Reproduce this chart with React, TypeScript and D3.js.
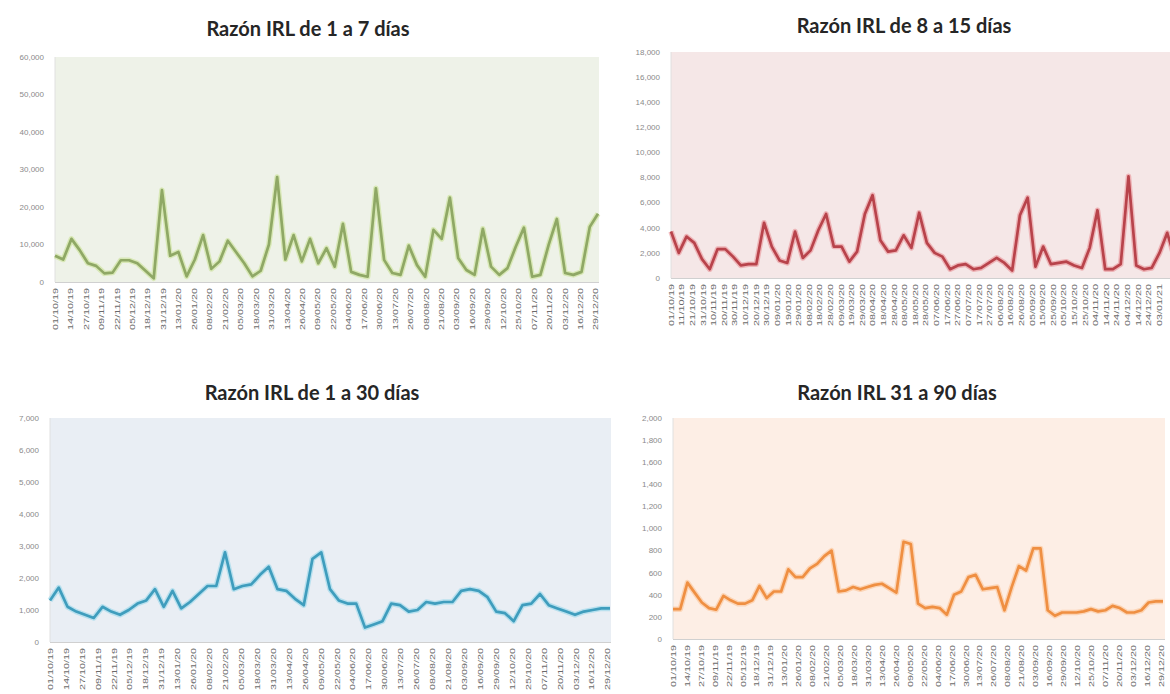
import React from 'react';
import * as d3 from 'd3';

const W = 1170;
const H = 694;

// etiquetas cada 13 días (gráficos 1, 3 y 4)
const ticks13 = [
  '01/10/19', '14/10/19', '27/10/19', '09/11/19', '22/11/19', '05/12/19', '18/12/19', '31/12/19',
  '13/01/20', '26/01/20', '08/02/20', '21/02/20', '05/03/20', '18/03/20', '31/03/20', '13/04/20',
  '26/04/20', '09/05/20', '22/05/20', '04/06/20', '17/06/20', '30/06/20', '13/07/20', '26/07/20',
  '08/08/20', '21/08/20', '03/09/20', '16/09/20', '29/09/20', '12/10/20', '25/10/20', '07/11/20',
  '20/11/20', '03/12/20', '16/12/20', '29/12/20',
];

// etiquetas cada 10 días (gráfico 2)
const ticks10 = [
  '01/10/19', '11/10/19', '21/10/19', '31/10/19', '10/11/19', '20/11/19', '30/11/19', '10/12/19',
  '20/12/19', '30/12/19', '09/01/20', '19/01/20', '29/01/20', '08/02/20', '18/02/20', '28/02/20',
  '09/03/20', '19/03/20', '29/03/20', '08/04/20', '18/04/20', '28/04/20', '08/05/20', '18/05/20',
  '28/05/20', '07/06/20', '17/06/20', '27/06/20', '07/07/20', '17/07/20', '27/07/20', '06/08/20',
  '16/08/20', '26/08/20', '05/09/20', '15/09/20', '25/09/20', '05/10/20', '15/10/20', '25/10/20',
  '04/11/20', '14/11/20', '24/11/20', '04/12/20', '14/12/20', '24/12/20', '03/01/21',
];

const razon1a7 = [
  7000, 6000, 11500, 8500, 5000, 4300, 2300, 2500, 5800, 5800, 5000, 3000, 1000, 24500, 7000,
  8000, 1500, 6000, 12500, 3500, 5500, 11000, 8000, 5000, 1500, 3000, 10000, 28000, 6000, 12500, 5500,
  11500, 5000, 9000, 4100, 15500, 2700, 1900, 1400, 25000, 5900, 2400, 1900, 9700, 4500, 1400, 13900,
  11500, 22500, 6400, 3200, 1900, 14200, 4100, 1900, 3700, 9400, 14500, 1400, 1900, 9900, 16800, 2400,
  1900, 2700, 14700, 18200,
];

const razon8a15 = [
  3700, 2000, 3300, 2800, 1500, 700, 2300, 2300, 1700, 1000, 1100, 1100, 4400, 2500, 1400, 1200,
  3700, 1600, 2200, 3800, 5100, 2500, 2500, 1300, 2100, 5100, 6600, 3000, 2100, 2200, 3400, 2400,
  5200, 2800, 2000, 1700, 700, 1000, 1100, 700, 800, 1200, 1600, 1200, 600, 5000, 6400, 900,
  2500, 1100, 1200, 1300, 1000, 800, 2400, 5400, 700, 700, 1100, 8100, 1000, 700, 800, 2000,
  3600, 1500,
];

const razon1a30 = [
  1300, 1700, 1100, 950, 850, 750, 1100, 950, 850, 1000, 1200, 1300, 1650, 1100, 1600, 1050,
  1250, 1500, 1750, 1750, 2800, 1650, 1750, 1800, 2100, 2350, 1650, 1600, 1350, 1150, 2600, 2800,
  1650, 1300, 1200, 1200, 450, 550, 650, 1200, 1150, 950, 1000, 1250, 1200, 1250, 1250, 1600,
  1650, 1600, 1400, 950, 900, 650, 1150, 1200, 1500, 1150, 1050, 950, 850, 950, 1000, 1050, 1050,
];

const razon31a90 = [
  270, 270, 510, 420, 330, 280, 265, 390, 350, 320, 320, 350, 480, 370, 430, 430, 630, 560, 560,
  640, 680, 750, 800, 430, 440, 470, 450, 470, 490, 500, 460, 420, 880, 860, 320, 280, 290, 280,
  220, 400, 430, 560, 580, 450, 460, 470, 260, 470, 660, 620, 820, 820, 260, 210, 240, 240, 240,
  250, 270, 250, 260, 300, 280, 240, 240, 260, 330, 340, 340,
];

const parse = d3.timeParse('%d/%m/%y');
const fmt = d3.format(',');

type PanelProps = {
  title: string;
  titleX: number;
  titleY: number;
  values: number[];
  labels: string[];
  dateEnd: string;
  x0: number;
  x1: number;
  plotRight: number;
  top: number;
  bottom: number;
  yMax: number;
  yStep: number;
  bg: string;
  color: string;
  glow: string;
};

function Panel(p: PanelProps) {
  const x = d3.scaleLinear().domain([0, p.values.length - 1]).range([p.x0, p.x1]);
  const t = d3
    .scaleTime()
    .domain([parse(p.labels[0]) as Date, parse(p.dateEnd) as Date])
    .range([p.x0, p.x1]);
  const y = d3.scaleLinear().domain([0, p.yMax]).range([p.bottom, p.top]);
  const line = d3
    .line<number>()
    .x((_, i) => x(i))
    .y((d) => y(d));
  const yTicks = d3.range(0, p.yMax + 1, p.yStep);
  const d = line(p.values) || '';

  return (
    <g>
      <text
        x={p.titleX}
        y={p.titleY}
        textAnchor="middle"
        fontFamily="Lato, 'Open Sans', sans-serif"
        fontWeight="bold"
        fontSize={20}
        fill="#262626"
      >
        {p.title}
      </text>
      <rect x={p.x0} y={p.top} width={p.plotRight - p.x0} height={p.bottom - p.top} fill={p.bg} />
      <line x1={p.x0} x2={p.x0} y1={p.top} y2={p.bottom} stroke="#e0e0e0" />
      <line x1={p.x0} x2={p.plotRight} y1={p.bottom + 0.5} y2={p.bottom + 0.5} stroke="#d0d0d0" />
      {yTicks.map((v) => (
        <text
          key={v}
          x={p.x0 - 11}
          y={y(v)}
          dy="0.35em"
          textAnchor="end"
          fontFamily="'Liberation Sans', Arial, sans-serif"
          fontSize={8}
          fill="#8a8a8a"
        >
          {fmt(v)}
        </text>
      ))}
      {p.labels.map((l) => {
        const lx = t(parse(l) as Date);
        const ly = p.bottom + 6;
        return (
          <text
            key={l}
            transform={`translate(${lx},${ly}) rotate(-90)`}
            dy="0.35em"
            textAnchor="end"
            fontFamily="'Liberation Sans', Arial, sans-serif"
            fontSize={8}
            textLength={42}
            lengthAdjust="spacingAndGlyphs"
            fill="#6a6a6a"
          >
            {l}
          </text>
        );
      })}
      <path d={d} fill="none" stroke={p.glow} strokeWidth={5.5} strokeOpacity={0.55} strokeLinejoin="round" />
      <path d={d} fill="none" stroke={p.color} strokeWidth={2.7} strokeLinejoin="round" />
    </g>
  );
}

export default function App() {
  return (
    <div style={{ position: 'absolute', left: 0, top: 0, width: W, height: H, background: '#fff' }}>
      <svg width={W} height={H} style={{ display: 'block' }}>
        <rect width={W} height={H} fill="#ffffff" />
        <Panel
          title="Razón IRL de 1 a 7 días"
          titleX={308}
          titleY={36}
          values={razon1a7}
          labels={ticks13}
          dateEnd="31/12/20"
          x0={55}
          x1={598}
          plotRight={599}
          top={57}
          bottom={282}
          yMax={60000}
          yStep={10000}
          bg="#eef2e8"
          color="#8fa865"
          glow="#c6e08c"
        />
        <Panel
          title="Razón IRL de 8 a 15 días"
          titleX={904}
          titleY={33}
          values={razon8a15}
          labels={ticks10}
          dateEnd="18/01/21"
          x0={671}
          x1={1175}
          plotRight={1190}
          top={52}
          bottom={278}
          yMax={18000}
          yStep={2000}
          bg="#f5e7e7"
          color="#b8434b"
          glow="#e88a90"
        />
        <Panel
          title="Razón IRL de 1 a 30 días"
          titleX={312}
          titleY={400}
          values={razon1a30}
          labels={ticks13}
          dateEnd="31/12/20"
          x0={50}
          x1={610}
          plotRight={611}
          top={418}
          bottom={642}
          yMax={7000}
          yStep={1000}
          bg="#e9eef4"
          color="#3f9dbd"
          glow="#8fd6ea"
        />
        <Panel
          title="Razón IRL 31 a 90 días"
          titleX={897}
          titleY={400}
          values={razon31a90}
          labels={ticks13}
          dateEnd="31/12/20"
          x0={673}
          x1={1163}
          plotRight={1165}
          top={418}
          bottom={639}
          yMax={2000}
          yStep={200}
          bg="#fdeee5"
          color="#ef8f42"
          glow="#fbc08e"
        />
      </svg>
    </div>
  );
}
